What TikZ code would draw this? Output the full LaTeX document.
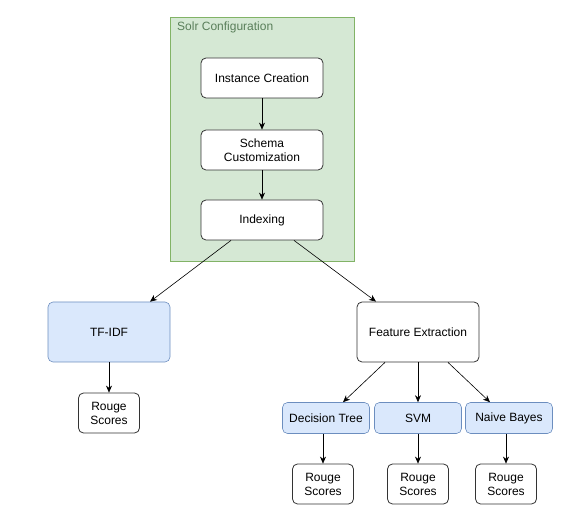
\documentclass[tikz,border=0pt]{standalone}
\usepackage{fontspec}
\setmainfont{Liberation Sans}
\usetikzlibrary{arrows.meta}
\usetikzlibrary{fit,positioning}
\definecolor{solrfill}{HTML}{D5E8D4}
\definecolor{solrline}{HTML}{82B366}
\definecolor{solrtext}{HTML}{5A7F5A}
\definecolor{modelfill}{HTML}{DAE8FC}
\definecolor{modelline}{HTML}{6C8EBF}
\begin{document}
\begin{tikzpicture}[x=1pt,y=-1pt]
  \tikzstyle{main}=[rectangle, rounded corners=5pt, draw=black!80, fill=white, thick, align=center, font=\fontsize{12}{14}\selectfont, inner sep=0pt]
  \tikzstyle{stepbox}=[main, minimum width=122pt, minimum height=40pt]
  \tikzstyle{model}=[main, fill=modelfill, draw=modelline, semithick]
  \tikzstyle{score}=[main, minimum width=61pt, minimum height=40pt]
  \tikzstyle{connect}=[-{Stealth[length=7pt,width=6pt]}, semithick]
    \useasboundingbox (0,0) rectangle (587,521);
    % solr container
    \node[rectangle, draw=solrline, fill=solrfill, minimum width=184pt, minimum height=244pt, inner sep=0pt] (solr) at (262,139) {};
    \node[anchor=west, text=solrtext, font=\fontsize{12}{14}\selectfont, inner sep=0pt] (solrlabel) at (177,27) {Solr Configuration};
    \node[stepbox] (instance) at (262,78) {Instance Creation};
    \node[stepbox] (schema) at (262,150) {Schema\\Customization};
    \node[stepbox] (index) at (262,220) {Indexing};
    % models
    \node[model, minimum width=122pt, minimum height=60pt] (tfidf) at (109,332) {TF-IDF};
    \node[stepbox, minimum height=60pt] (feature) at (418,332) {Feature Extraction};
    \node[model, minimum width=87pt, minimum height=31pt] (tree) at (326,418) {Decision Tree};
    \node[model, minimum width=87pt, minimum height=31pt] (svm) at (418,418) {SVM};
    \node[model, minimum width=87pt, minimum height=31pt] (bayes) at (509,418) {Naive Bayes};
    % scores
    \node[score] (tfscore) at (109,413) {Rouge\\Scores};
    \node[score] (treescore) at (323,484) {Rouge\\Scores};
    \node[score] (svmscore) at (418,484) {Rouge\\Scores};
    \node[score] (bayesscore) at (506,484) {Rouge\\Scores};
    \path (instance) edge [connect] (schema)
          (schema) edge [connect] (index)
          ([xshift=-31pt]index.south) edge [connect] ([xshift=41pt]tfidf.north)
          ([xshift=32pt]index.south) edge [connect] ([xshift=-42pt]feature.north)
          (tfidf) edge [connect] (tfscore)
          ([xshift=-33pt]feature.south) edge [connect] ([xshift=17pt]tree.north)
          (feature) edge [connect] (svm)
          ([xshift=30pt]feature.south) edge [connect] ([xshift=-19pt]bayes.north)
          (tree.south -| treescore) edge [connect] (treescore)
          (svm) edge [connect] (svmscore)
          (bayes.south -| bayesscore) edge [connect] (bayesscore);
  \end{tikzpicture}
\end{document}
